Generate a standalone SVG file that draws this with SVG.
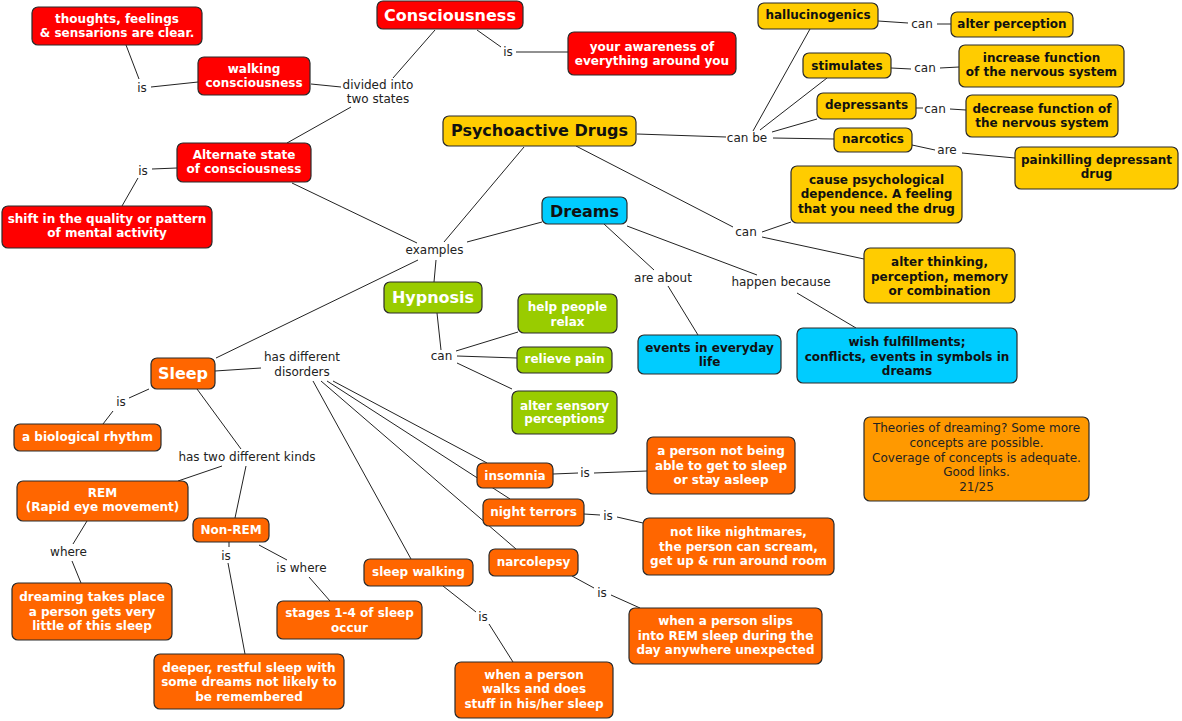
<svg xmlns="http://www.w3.org/2000/svg" width="1182" height="721" viewBox="0 0 1182 721">
<style>
text{font-family:"DejaVu Sans",Verdana,sans-serif;font-size:12px;text-anchor:middle}
.n rect{stroke:#2a2a2a;stroke-width:1.2}
.r rect{fill:#ff0000}.y rect{fill:#ffcc00}.b rect{fill:#00ccff}.g rect{fill:#99cc00}.o rect{fill:#ff6600}.c rect{fill:#ff9900}
.r text,.g text,.o text{fill:#fff;font-weight:bold}
.y text,.b text{fill:#111;font-weight:bold}
.c text{fill:#222}
.big{font-size:16px}
.lab text{fill:#222}
#connectors line{stroke:#222;stroke-width:1}
</style>
<rect width="1182" height="721" fill="#fff"/>
<g id="connectors">
<line x1="435" y1="30" x2="393" y2="78"/>
<line x1="311" y1="84" x2="341" y2="87"/>
<line x1="351" y1="107" x2="287" y2="143"/>
<line x1="477" y1="30" x2="501" y2="47"/>
<line x1="516" y1="52" x2="568" y2="52"/>
<line x1="126" y1="45" x2="139" y2="79"/>
<line x1="151" y1="87" x2="198" y2="82"/>
<line x1="177" y1="168" x2="152" y2="169"/>
<line x1="138" y1="178" x2="122" y2="206"/>
<line x1="292" y1="183" x2="417" y2="243"/>
<line x1="524" y1="147" x2="444" y2="242"/>
<line x1="467" y1="242" x2="542" y2="222"/>
<line x1="436" y1="260" x2="434" y2="282"/>
<line x1="418" y1="260" x2="216" y2="358"/>
<line x1="637" y1="134" x2="726" y2="137"/>
<line x1="753" y1="131" x2="810" y2="29"/>
<line x1="760" y1="130" x2="827" y2="78"/>
<line x1="772" y1="132" x2="817" y2="119"/>
<line x1="773" y1="138" x2="834" y2="139"/>
<line x1="878" y1="21" x2="908" y2="23"/>
<line x1="937" y1="24" x2="951" y2="24"/>
<line x1="891" y1="68" x2="911" y2="69"/>
<line x1="940" y1="68" x2="959" y2="67"/>
<line x1="916" y1="108" x2="923" y2="108"/>
<line x1="950" y1="109" x2="966" y2="110"/>
<line x1="912" y1="145" x2="935" y2="150"/>
<line x1="962" y1="153" x2="1015" y2="158"/>
<line x1="576" y1="146" x2="733" y2="227"/>
<line x1="762" y1="232" x2="791" y2="222"/>
<line x1="762" y1="237" x2="864" y2="259"/>
<line x1="604" y1="224" x2="654" y2="270"/>
<line x1="668" y1="286" x2="698" y2="335"/>
<line x1="627" y1="226" x2="757" y2="275"/>
<line x1="797" y1="293" x2="856" y2="328"/>
<line x1="437" y1="313" x2="441" y2="350"/>
<line x1="456" y1="351" x2="518" y2="332"/>
<line x1="457" y1="356" x2="517" y2="358"/>
<line x1="457" y1="363" x2="512" y2="389"/>
<line x1="215" y1="371" x2="261" y2="368"/>
<line x1="149" y1="389" x2="129" y2="398"/>
<line x1="113" y1="411" x2="103" y2="424"/>
<line x1="197" y1="389" x2="241" y2="449"/>
<line x1="222" y1="466" x2="178" y2="481"/>
<line x1="246" y1="466" x2="235" y2="518"/>
<line x1="87" y1="521" x2="73" y2="544"/>
<line x1="72" y1="561" x2="81" y2="583"/>
<line x1="229" y1="542" x2="229" y2="547"/>
<line x1="228" y1="563" x2="245" y2="654"/>
<line x1="259" y1="545" x2="287" y2="560"/>
<line x1="309" y1="577" x2="330" y2="601"/>
<line x1="313" y1="381" x2="411" y2="559"/>
<line x1="321" y1="381" x2="516" y2="549"/>
<line x1="327" y1="381" x2="510" y2="499"/>
<line x1="333" y1="381" x2="487" y2="463"/>
<line x1="553" y1="474" x2="578" y2="473"/>
<line x1="594" y1="473" x2="647" y2="471"/>
<line x1="584" y1="514" x2="600" y2="515"/>
<line x1="617" y1="517" x2="643" y2="523"/>
<line x1="572" y1="576" x2="594" y2="588"/>
<line x1="611" y1="595" x2="640" y2="608"/>
<line x1="443" y1="586" x2="476" y2="612"/>
<line x1="489" y1="624" x2="513" y2="662"/>
</g>
<g id="labels" class="lab">
<text x="378" y="89">divided into</text><text x="378" y="103">two states</text>
<text x="508" y="56">is</text>
<text x="142" y="92">is</text>
<text x="143" y="175">is</text>
<text x="434.5" y="254">examples</text>
<text x="747" y="142">can be</text>
<text x="922" y="28">can</text>
<text x="925" y="72">can</text>
<text x="935" y="113">can</text>
<text x="947" y="154">are</text>
<text x="746" y="236">can</text>
<text x="663" y="282">are about</text>
<text x="781" y="286">happen because</text>
<text x="441.5" y="360">can</text>
<text x="302" y="361">has different</text><text x="302" y="376">disorders</text>
<text x="121" y="406">is</text>
<text x="247" y="461">has two different kinds</text>
<text x="68.5" y="556">where</text>
<text x="226" y="560">is</text>
<text x="301.5" y="572">is where</text>
<text x="585" y="477">is</text>
<text x="608" y="520">is</text>
<text x="602" y="597">is</text>
<text x="483" y="621">is</text>
</g>
<g id="consciousness" class="n r"><rect x="377" y="1" width="146" height="28" rx="6"/><text class="big" x="450" y="21">Consciousness</text></g>
<g id="awareness" class="n r"><rect x="568" y="32" width="168" height="43" rx="6"/><text x="652" y="51">your awareness of</text><text x="652" y="65">everything around you</text></g>
<g id="thoughts" class="n r"><rect x="32" y="7" width="170" height="38" rx="6"/><text x="117" y="23">thoughts, feelings</text><text x="117" y="37">&amp; sensarions are clear.</text></g>
<g id="walking" class="n r"><rect x="198" y="57" width="112" height="38" rx="6"/><text x="254" y="73">walking</text><text x="254" y="87">consciousness</text></g>
<g id="alternate" class="n r"><rect x="177" y="143" width="134" height="39" rx="6"/><text x="244" y="159">Alternate state</text><text x="244" y="173">of consciousness</text></g>
<g id="shift" class="n r"><rect x="2" y="206" width="210" height="42" rx="6"/><text x="107" y="223">shift in the quality or pattern</text><text x="107" y="237">of mental activity</text></g>
<g id="psychoactive" class="n y"><rect x="443" y="116" width="193" height="30" rx="6"/><text class="big" x="539.5" y="136">Psychoactive Drugs</text></g>
<g id="hallucinogenics" class="n y"><rect x="758" y="3" width="120" height="26" rx="6"/><text x="818" y="19">hallucinogenics</text></g>
<g id="alterperception" class="n y"><rect x="951" y="12" width="122" height="25" rx="6"/><text x="1012" y="28">alter perception</text></g>
<g id="stimulates" class="n y"><rect x="803" y="53" width="88" height="25" rx="6"/><text x="847" y="70">stimulates</text></g>
<g id="increase" class="n y"><rect x="959" y="45" width="165" height="42" rx="6"/><text x="1041.5" y="62">increase function</text><text x="1041.5" y="76">of the nervous system</text></g>
<g id="depressants" class="n y"><rect x="817" y="93" width="99" height="26" rx="6"/><text x="866.5" y="109">depressants</text></g>
<g id="decrease" class="n y"><rect x="966" y="95" width="152" height="42" rx="6"/><text x="1042" y="113">decrease function of</text><text x="1042" y="127">the nervous system</text></g>
<g id="narcotics" class="n y"><rect x="834" y="128" width="78" height="24" rx="6"/><text x="873" y="143">narcotics</text></g>
<g id="painkilling" class="n y"><rect x="1015" y="147" width="163" height="42" rx="6"/><text x="1096.5" y="164">painkilling depressant</text><text x="1096.5" y="178">drug</text></g>
<g id="cause" class="n y"><rect x="791" y="166" width="171" height="57" rx="6"/><text x="876.5" y="184">cause psychological</text><text x="876.5" y="198">dependence. A feeling</text><text x="876.5" y="213">that you need the drug</text></g>
<g id="alterthinking" class="n y"><rect x="864" y="248" width="151" height="55" rx="6"/><text x="939.5" y="266">alter thinking,</text><text x="939.5" y="281">perception, memory</text><text x="939.5" y="295">or combination</text></g>
<g id="dreams" class="n b"><rect x="542" y="197" width="85" height="27" rx="6"/><text class="big" x="584.5" y="217">Dreams</text></g>
<g id="events" class="n b"><rect x="638" y="335" width="143" height="39" rx="6"/><text x="709.5" y="352">events in everyday</text><text x="709.5" y="366">life</text></g>
<g id="wish" class="n b"><rect x="797" y="328" width="220" height="55" rx="6"/><text x="907" y="346">wish fulfillments;</text><text x="907" y="361">conflicts, events in symbols in</text><text x="907" y="375">dreams</text></g>
<g id="hypnosis" class="n g"><rect x="384" y="282" width="98" height="31" rx="6"/><text class="big" x="433" y="303">Hypnosis</text></g>
<g id="help" class="n g"><rect x="518" y="294" width="99" height="39" rx="6"/><text x="567.5" y="311">help people</text><text x="567.5" y="326">relax</text></g>
<g id="relieve" class="n g"><rect x="517" y="347" width="95" height="26" rx="6"/><text x="564.5" y="363">relieve pain</text></g>
<g id="altersensory" class="n g"><rect x="512" y="391" width="105" height="43" rx="6"/><text x="564.5" y="410">alter sensory</text><text x="564.5" y="423">perceptions</text></g>
<g id="sleep" class="n o"><rect x="151" y="358" width="64" height="31" rx="6"/><text class="big" x="183" y="379">Sleep</text></g>
<g id="biological" class="n o"><rect x="14" y="424" width="147" height="27" rx="6"/><text x="87.5" y="441">a biological rhythm</text></g>
<g id="rem" class="n o"><rect x="17" y="481" width="171" height="40" rx="6"/><text x="102.5" y="497">REM</text><text x="102.5" y="511">(Rapid eye movement)</text></g>
<g id="nonrem" class="n o"><rect x="193" y="518" width="76" height="24" rx="6"/><text x="231" y="534">Non-REM</text></g>
<g id="dreaming" class="n o"><rect x="12" y="583" width="160" height="57" rx="6"/><text x="92" y="601">dreaming takes place</text><text x="92" y="616">a person gets very</text><text x="92" y="630">little of this sleep</text></g>
<g id="deeper" class="n o"><rect x="154" y="654" width="190" height="55" rx="6"/><text x="249" y="672">deeper, restful sleep with</text><text x="249" y="686">some dreams not likely to</text><text x="249" y="701">be remembered</text></g>
<g id="stages" class="n o"><rect x="277" y="601" width="145" height="38" rx="6"/><text x="349.5" y="617">stages 1-4 of sleep</text><text x="349.5" y="632">occur</text></g>
<g id="sleepwalking" class="n o"><rect x="364" y="559" width="109" height="27" rx="6"/><text x="418.5" y="576">sleep walking</text></g>
<g id="walks" class="n o"><rect x="455" y="662" width="158" height="56" rx="6"/><text x="534" y="679">when a person</text><text x="534" y="693">walks and does</text><text x="534" y="708">stuff in his/her sleep</text></g>
<g id="insomnia" class="n o"><rect x="477" y="463" width="76" height="25" rx="6"/><text x="515" y="480">insomnia</text></g>
<g id="personnot" class="n o"><rect x="647" y="437" width="148" height="57" rx="6"/><text x="721" y="455">a person not being</text><text x="721" y="470">able to get to sleep</text><text x="721" y="484">or stay asleep</text></g>
<g id="nightterrors" class="n o"><rect x="483" y="499" width="101" height="27" rx="6"/><text x="533.5" y="516">night terrors</text></g>
<g id="notlike" class="n o"><rect x="643" y="518" width="191" height="57" rx="6"/><text x="738.5" y="536">not like nightmares,</text><text x="738.5" y="551">the person can scream,</text><text x="738.5" y="565">get up &amp; run around room</text></g>
<g id="narcolepsy" class="n o"><rect x="489" y="549" width="89" height="27" rx="6"/><text x="533.5" y="566">narcolepsy</text></g>
<g id="slips" class="n o"><rect x="629" y="608" width="193" height="56" rx="6"/><text x="725.5" y="625">when a person slips</text><text x="725.5" y="640">into REM sleep during the</text><text x="725.5" y="654">day anywhere unexpected</text></g>
<g id="comment" class="n c"><rect x="864" y="417" width="225" height="84" rx="6"/><text x="976.5" y="432">Theories of dreaming? Some more</text><text x="976.5" y="447">concepts are possible.</text><text x="976.5" y="462">Coverage of concepts is adequate.</text><text x="976.5" y="476">Good links.</text><text x="976.5" y="491">21/25</text></g>
</svg>
